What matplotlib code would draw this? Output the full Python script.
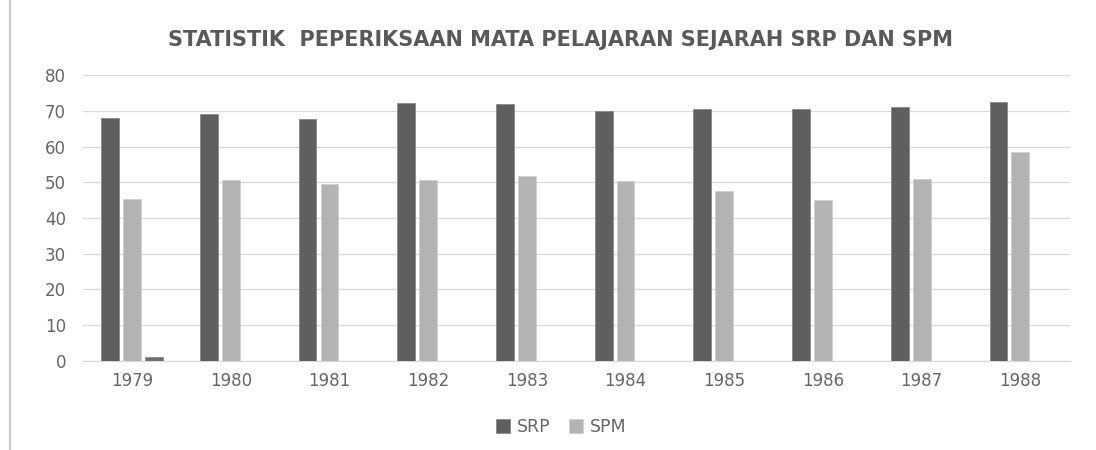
import numpy as np
import matplotlib
matplotlib.use("Agg")
import matplotlib.pyplot as plt
from matplotlib.lines import Line2D

plt.rcParams["font.family"] = ["DejaVu Sans"]

# Data
years = ["1979", "1980", "1981", "1982", "1983", "1984", "1985", "1986", "1987", "1988"]
srp = [67.9, 69.1, 67.7, 72.3, 72.0, 70.1, 70.6, 70.6, 71.2, 72.5]
spm = [45.3, 50.7, 49.6, 50.7, 51.7, 50.4, 47.5, 45.1, 51.0, 58.4]
extra = [1.1, 0, 0, 0, 0, 0, 0, 0, 0, 0]  # stray third series, not in legend

fig = plt.figure(figsize=(10.96, 4.5), dpi=100)
ax = fig.add_axes([0.0755, 0.198, 0.9005, 0.635])

x = np.arange(len(years))
step = 0.222
w = 0.18
ax.bar(x - step, srp, w, color="#5f5f5f", edgecolor="#8a8a8a", linewidth=0.6, label="SRP", zorder=3)
ax.bar(x, spm, w, color="#b3b3b3", edgecolor="#d0d0d0", linewidth=0.6, label="SPM", zorder=3)
ax.bar(x + step, extra, w, color="#6e6e6e", edgecolor="#8a8a8a", linewidth=0.6, zorder=3)

ax.set_xlim(-0.5, len(years) - 0.5)
ax.set_ylim(0, 80)
ax.set_yticks(range(0, 81, 10))
ax.set_xticks(x)
ax.set_xticklabels(years)
ax.yaxis.grid(True, color="#d9d9d9", linewidth=0.9, zorder=0)
ax.set_axisbelow(True)
for s in ["top", "right", "left"]:
    ax.spines[s].set_visible(False)
ax.spines["bottom"].set_color("#d9d9d9")
ax.spines["bottom"].set_linewidth(0.9)
ax.tick_params(length=0, labelsize=12, colors="#666666")
ax.tick_params(axis="x", pad=8)
ax.tick_params(axis="y", pad=12)

fig.text(0.511, 0.911, "STATISTIK  PEPERIKSAAN MATA PELAJARAN SEJARAH SRP DAN SPM",
         ha="center", va="center", fontsize=15, fontweight="bold", color="#595959")

handles, labels = ax.get_legend_handles_labels()
fig.legend(handles, labels, loc="center", bbox_to_anchor=(0.512, 0.051), ncol=2,
           frameon=False, fontsize=12.5, labelcolor="#666666", handlelength=0.8,
           handleheight=0.8, handletextpad=0.4, columnspacing=1.1)

# left border of the pasted chart
fig.add_artist(Line2D([0.009, 0.009], [0, 1], color="#c8c8c8", linewidth=1.5,
                      transform=fig.transFigure))

fig.savefig("out.png", dpi=100)
